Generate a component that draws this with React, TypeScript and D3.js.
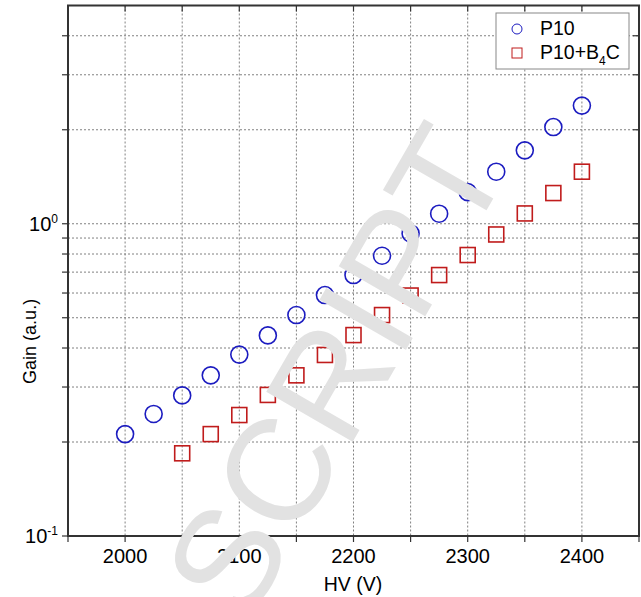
import React from 'react';
import * as d3 from 'd3';

// HV (V) and gain values
const hvP10 = [2000, 2025, 2050, 2075, 2100, 2125, 2150, 2175, 2200, 2225, 2250, 2275, 2300, 2325, 2350, 2375, 2400];
const gainP10 = [0.212, 0.246, 0.282, 0.327, 0.381, 0.439, 0.51, 0.591, 0.685, 0.79, 0.931, 1.077, 1.263, 1.468, 1.718, 2.04, 2.39];

const hvB4C = [2050, 2075, 2100, 2125, 2150, 2175, 2200, 2225, 2250, 2275, 2300, 2325, 2350, 2375, 2400];
const gainB4C = [0.184, 0.212, 0.244, 0.283, 0.327, 0.38, 0.44, 0.51, 0.589, 0.685, 0.794, 0.924, 1.079, 1.254, 1.468];

const xTickLabels = [2000, 2100, 2200, 2300, 2400];
const xMinorTicks = [1950, 2000, 2050, 2100, 2150, 2200, 2250, 2300, 2350, 2400, 2450];
const yGrid = [0.2, 0.3, 0.4, 0.5, 0.6, 0.7, 0.8, 0.9, 1, 2, 3, 4];
const yTickLabels = [
    {v: 0.1, exp: '-1'},
    {v: 1, exp: '0'},
];

const FONT = '"Liberation Sans", Arial, Helvetica, sans-serif';
const BLUE = '#1c1cc0';
const RED = '#c01c1c';

const App = () => {
    const left = 68, right = 639, top = 5.5, bottom = 536;

    const x = d3.scaleLinear().domain([1950, 2450]).range([left, right]);
    const y = d3.scaleLog().domain([0.1, 5]).range([bottom, top]);

    return (
        <svg width={641} height={597} style={{position: 'absolute', left: 0, top: 0, background: '#fff'}}>
            {/* grid */}
            <g stroke="#808080" strokeWidth={1} strokeDasharray="2,2">
                {xMinorTicks.filter((t) => t > 1950 && t < 2450).map((t) => (
                    <line key={'gx' + t} x1={x(t)} x2={x(t)} y1={top} y2={bottom} />
                ))}
                {yGrid.map((v) => (
                    <line key={'gy' + v} x1={left} x2={right} y1={y(v)} y2={y(v)} />
                ))}
            </g>

            {/* markers */}
            {hvP10.map((h, i) => (
                <circle key={'c' + i} cx={x(h)} cy={y(gainP10[i])} r={8.5}
                        fill="none" stroke={BLUE} strokeWidth={1.6} />
            ))}
            {hvB4C.map((h, i) => (
                <rect key={'s' + i} x={x(h) - 7.5} y={y(gainB4C[i]) - 7.5} width={15} height={15}
                      fill="none" stroke={RED} strokeWidth={1.6} />
            ))}

            {/* ticks */}
            <g stroke="#333" strokeWidth={1.2}>
                {xMinorTicks.map((t) => (
                    <g key={'tx' + t}>
                        <line x1={x(t)} x2={x(t)} y1={bottom} y2={bottom + 6} />
                        <line x1={x(t)} x2={x(t)} y1={top} y2={top + 6} />
                    </g>
                ))}
                {[0.1, ...yGrid].map((v) => (
                    <g key={'ty' + v}>
                        <line x1={left - 6} x2={left} y1={y(v)} y2={y(v)} />
                        <line x1={right - 6} x2={right} y1={y(v)} y2={y(v)} />
                    </g>
                ))}
            </g>

            {/* frame */}
            <rect x={left} y={top} width={right - left} height={bottom - top}
                  fill="none" stroke="#333" strokeWidth={2} />

            {/* tick labels */}
            <g fontFamily={FONT} fill="#000">
                {xTickLabels.map((t) => (
                    <text key={'lx' + t} x={x(t)} y={563} fontSize={20} textAnchor="middle">{t}</text>
                ))}
                {yTickLabels.map((d) => (
                    <text key={'ly' + d.v} x={58} y={y(d.v) + 7} fontSize={20} textAnchor="end">
                        10<tspan dy={-8} fontSize={12}>{d.exp}</tspan>
                    </text>
                ))}
                <text x={353} y={591} fontSize={19.5} textAnchor="middle">HV (V)</text>
                <text transform={`translate(36, ${y(0.42)}) rotate(-90)`} fontSize={18} textAnchor="middle">Gain (a.u.)</text>
            </g>

            {/* legend */}
            <rect x={496} y={13} width={133} height={56} fill="#fff" stroke="#888" strokeWidth={1} />
            <circle cx={517} cy={29} r={5} fill="none" stroke={BLUE} strokeWidth={1} />
            <rect x={512} y={48} width={10} height={10} fill="none" stroke={RED} strokeWidth={1} />
            <g fontFamily={FONT} fill="#000">
                <text x={540} y={35} fontSize={19.5}>P10</text>
                <text x={540} y={59} fontSize={19.5}>
                    P10+B<tspan dy={6} fontSize={12}>4</tspan><tspan dy={-6}>C</tspan>
                </text>
            </g>

            {/* watermark */}
            <text transform="translate(512, 166) rotate(-60)" textAnchor="end" fontFamily={FONT}
                  fontSize={145} fill="#e2e2e2">SCRIPT</text>
        </svg>
    );
};

export default App;
